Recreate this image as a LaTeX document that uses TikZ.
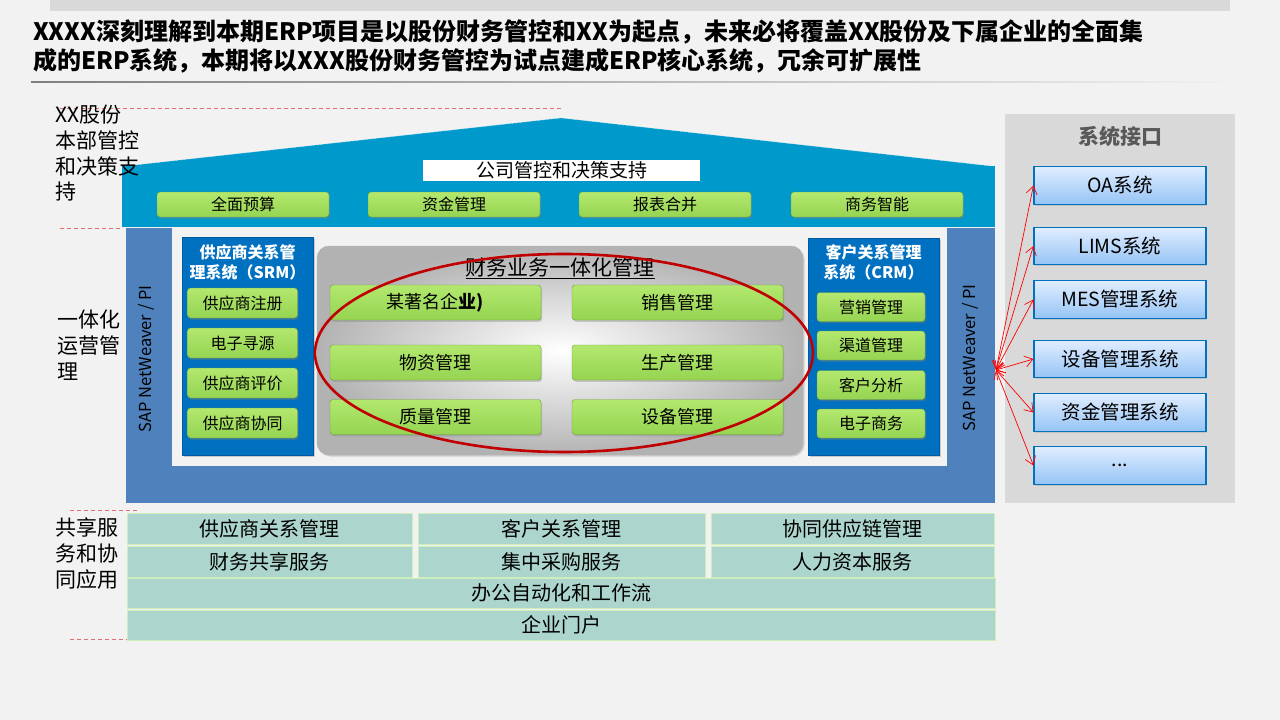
\documentclass[tikz,border=0pt]{standalone}
\usepackage{fontspec}
\setmainfont{Noto Sans CJK SC}
\usetikzlibrary{arrows.meta,shadows,shapes.geometric}
\definecolor{bg}{RGB}{242,242,242}
\definecolor{topbar}{RGB}{217,217,217}
\definecolor{roofc}{RGB}{0,153,204}
\definecolor{bandc}{RGB}{79,129,189}
\definecolor{srmc}{RGB}{0,112,192}
\definecolor{srmd}{RGB}{0,90,160}
\definecolor{gtop}{RGB}{178,232,110}
\definecolor{gbot}{RGB}{150,212,82}
\definecolor{gbord}{RGB}{110,160,55}
\definecolor{itop}{RGB}{224,237,255}
\definecolor{ibot}{RGB}{150,196,245}
\definecolor{iborder}{RGB}{0,112,192}
\definecolor{panelc}{RGB}{217,217,217}
\definecolor{svc}{RGB}{172,214,205}
\definecolor{svborder}{RGB}{205,238,185}
\definecolor{ellred}{RGB}{192,0,0}
\definecolor{dashred}{RGB}{230,110,110}
\definecolor{titlegray}{RGB}{89,89,89}
\newcommand\fsz[2]{\fontsize{#1}{#2}\selectfont}
\begin{document}
\begin{tikzpicture}[x=1pt,y=-1pt,
  gbtn/.style={draw=gbord, top color=gtop, bottom color=gbot, rounded corners=3pt,
    inner sep=0pt, drop shadow={shadow xshift=1.2pt, shadow yshift=-1.8pt, opacity=.35}},
  ibox/.style={draw=iborder, line width=1.1pt, top color=itop, bottom color=ibot, inner sep=0pt,
    minimum width=172pt, minimum height=37.5pt, font=\fsz{19.5}{22},
    drop shadow={shadow xshift=1pt, shadow yshift=-1.5pt, opacity=.25}},
  svbox/.style={draw=svborder, line width=1pt, fill=svc, inner sep=0pt, font=\fsz{20}{22}},
  redline/.style={dashred, dashed, dash pattern=on 4pt off 3pt, line width=0.8pt},
  sysbox/.style={fill=srmc, draw=srmd, inner sep=0pt,
    drop shadow={shadow xshift=1.5pt, shadow yshift=-1.5pt, opacity=.35}},
  lbl/.style={anchor=north west, align=left, inner sep=0pt, font=\fsz{21}{25.7}},
  link/.style={red, line width=0.7pt, {Straight Barb[length=8pt,width=11pt]}-{Straight Barb[length=8pt,width=11pt]}}
]
\useasboundingbox (0,0) rectangle (1280,720);
\fill[bg] (0,0) rectangle (1280,720);
% top bar
\fill[topbar] (50,0) rectangle (1230,11);
% title
\node[anchor=west, inner sep=0pt, font=\bfseries\fsz{24}{28}] (title1) at (33,32)
  {XXXX深刻理解到本期ERP项目是以股份财务管控和XX为起点，未来必将覆盖XX股份及下属企业的全面集};
\node[anchor=west, inner sep=0pt, font=\bfseries\fsz{24}{28}] (title2) at (33,61)
  {成的ERP系统，本期将以XXX股份财务管控为试点建成ERP核心系统，冗余可扩展性};
\shade[left color=gray, right color=bg] (31,81.3) rectangle (1240,82.7);

% red dashed separators
\draw[redline] (60,108) -- (561,108);
\draw[redline] (60,228) -- (123,228);
\draw[redline] (70,510) -- (137,510);
\draw[redline] (70,639) -- (137,639);

% roof
\fill[roofc] (122,166.5) -- (561,118) -- (995,166.5) -- cycle;
\draw[white!80!roofc, line width=0.6pt, dotted] (122,166.5) -- (561,118) -- (995,166.5);
\fill[roofc] (122,166) rectangle (995,227);
\node[fill=white, minimum width=277pt, minimum height=21pt, inner sep=0pt, font=\fsz{19}{21}] (corp) at (561.5,170.5) {公司管控和决策支持};
\node[gbtn, minimum width=172pt, minimum height=25pt, font=\fsz{16}{18}] (b1) at (243,204.5) {全面预算};
\node[gbtn, minimum width=172pt, minimum height=25pt, font=\fsz{16}{18}] (b2) at (454,204.5) {资金管理};
\node[gbtn, minimum width=172pt, minimum height=25pt, font=\fsz{16}{18}] (b3) at (665,204.5) {报表合并};
\node[gbtn, minimum width=172pt, minimum height=25pt, font=\fsz{16}{18}] (b4) at (877,204.5) {商务智能};

% middle band
\fill[bandc] (126,228) rectangle (995,503);
\fill[bg] (172,228) rectangle (947,466);
\node[rotate=90, font=\fsz{16.5}{18}, inner sep=0pt] (sapl) at (146,359) {SAP NetWeaver / PI};
\node[rotate=90, font=\fsz{16.5}{18}, inner sep=0pt] (sapr) at (970,358) {SAP NetWeaver / PI};

% SRM
\node[sysbox, minimum width=131pt, minimum height=218pt] (srm) at (247.5,346) {};
\node[text=white, font=\bfseries\fsz{16}{20}, align=center, inner sep=0pt] (srmt) at (247.5,262) {供应商关系管\\理系统（SRM）};
\node[gbtn, minimum width=110pt, minimum height=30pt, font=\fsz{16}{18}] (s1) at (242.5,303) {供应商注册};
\node[gbtn, minimum width=110pt, minimum height=30pt, font=\fsz{16}{18}] (s2) at (242.5,343) {电子寻源};
\node[gbtn, minimum width=110pt, minimum height=30pt, font=\fsz{16}{18}] (s3) at (242.5,383) {供应商评价};
\node[gbtn, minimum width=110pt, minimum height=30pt, font=\fsz{16}{18}] (s4) at (242.5,423) {供应商协同};

% CRM
\node[sysbox, minimum width=131pt, minimum height=217pt] (crm) at (873.5,346.5) {};
\node[text=white, font=\bfseries\fsz{16}{20}, align=center, inner sep=0pt] (crmt) at (873.5,262) {客户关系管理\\系统（CRM）};
\node[gbtn, minimum width=108pt, minimum height=29pt, font=\fsz{16}{18}] (c1) at (871,307) {营销管理};
\node[gbtn, minimum width=108pt, minimum height=29pt, font=\fsz{16}{18}] (c2) at (871,345.5) {渠道管理};
\node[gbtn, minimum width=108pt, minimum height=29pt, font=\fsz{16}{18}] (c3) at (871,385) {客户分析};
\node[gbtn, minimum width=108pt, minimum height=29pt, font=\fsz{16}{18}] (c4) at (871,423.5) {电子商务};

% central panel
\node[rounded corners=12pt, inner color=white, outer color=black!30, draw=black!30,
  minimum width=486pt, minimum height=209pt, inner sep=0pt,
  drop shadow={shadow xshift=1.5pt, shadow yshift=-1.5pt, opacity=.3}] (center) at (560,350.5) {};
\node[font=\fsz{21}{23}, inner sep=0pt] (ctitle) at (560,268) {\underline{财务业务一体化管理}};
\node[gbtn, minimum width=211pt, minimum height=35pt, font=\fsz{18}{20}] (m1) at (435.5,302.5) {某著名企{\bfseries 业)}};
\node[gbtn, minimum width=211pt, minimum height=35pt, font=\fsz{18}{20}] (m2) at (677.5,302.5) {销售管理};
\node[gbtn, minimum width=211pt, minimum height=35pt, font=\fsz{18}{20}] (m3) at (435.5,362.5) {物资管理};
\node[gbtn, minimum width=211pt, minimum height=35pt, font=\fsz{18}{20}] (m4) at (677.5,362.5) {生产管理};
\node[gbtn, minimum width=211pt, minimum height=35pt, font=\fsz{18}{20}] (m5) at (435.5,417) {质量管理};
\node[gbtn, minimum width=211pt, minimum height=35pt, font=\fsz{18}{20}] (m6) at (677.5,417) {设备管理};
\node[ellipse, draw=ellred, line width=2.6pt, minimum width=498pt, minimum height=198pt, inner sep=0pt] (oval) at (564,353) {};

% interface panel
\fill[panelc] (1005,114) rectangle (1235,503);
\node[font=\bfseries\fsz{21}{23}, text=titlegray, inner sep=0pt] (ititle) at (1120,136) {系统接口};
\node[ibox] (i1) at (1120,185.5) {OA系统};
\node[ibox] (i2) at (1120,246) {LIMS系统};
\node[ibox] (i3) at (1120,299.5) {MES管理系统};
\node[ibox] (i4) at (1120,359) {设备管理系统};
\node[ibox] (i5) at (1120,412.5) {资金管理系统};
\node[ibox] (i6) at (1120,465.5) {...};
\coordinate (hub) at (996,370);
\foreach \t in {i1,i2,i3,i4,i5,i6} \draw[link] (hub) -- (\t.west);

% shared services
\node[svbox, minimum width=285pt, minimum height=31pt] (v1) at (269.5,528.5) {供应商关系管理};
\node[svbox, minimum width=287pt, minimum height=31pt] (v2) at (561.5,528.5) {客户关系管理};
\node[svbox, minimum width=283pt, minimum height=31pt] (v3) at (852.5,528.5) {协同供应链管理};
\node[svbox, minimum width=285pt, minimum height=31pt] (v4) at (269.5,561.5) {财务共享服务};
\node[svbox, minimum width=287pt, minimum height=31pt] (v5) at (561.5,561.5) {集中采购服务};
\node[svbox, minimum width=283pt, minimum height=31pt] (v6) at (852.5,561.5) {人力资本服务};
\node[svbox, minimum width=868pt, minimum height=30pt] (v7) at (561,593) {办公自动化和工作流};
\node[svbox, minimum width=868pt, minimum height=30pt] (v8) at (561,625) {企业门户};

% left labels
\node[lbl] (l1) at (55,105) {XX股份\\本部管控\\和决策支\\持};
\node[lbl] (l2) at (57,310) {一体化\\运营管\\理};
\node[lbl] (l3) at (55,518) {共享服\\务和协\\同应用};
\end{tikzpicture}
\end{document}
